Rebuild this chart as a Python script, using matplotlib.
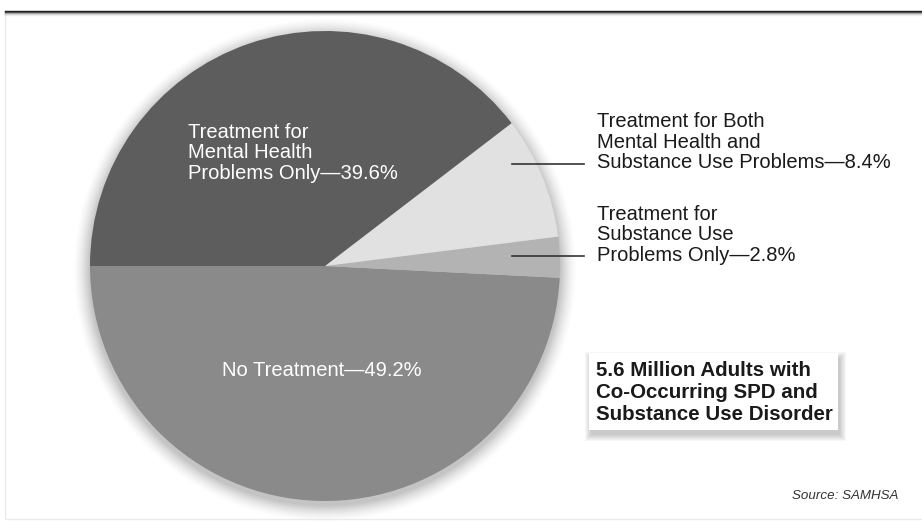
import matplotlib.pyplot as plt
from matplotlib.patches import Circle, Rectangle

plt.rcParams["font.family"] = ["Liberation Sans", "DejaVu Sans"]

# data, in drawing order (counterclockwise from 9 o'clock)
labels = [
    "No Treatment—49.2%",
    "Treatment for\nSubstance Use\nProblems Only—2.8%",
    "Treatment for Both\nMental Health and\nSubstance Use Problems—8.4%",
    "Treatment for\nMental Health\nProblems Only—39.6%",
]
shares = [49.2, 2.8, 8.4, 39.6]
colors = ["#8a8a8a", "#b3b3b3", "#e1e1e1", "#5d5d5d"]
box_text = "5.6 Million Adults with\nCo-Occurring SPD and\nSubstance Use Disorder"
source = "Source: SAMHSA"

W, H = 922, 522
fig = plt.figure(figsize=(W / 100, H / 100), dpi=100)
ax = fig.add_axes([0, 0, 1, 1])

cx, cy, r = 325, H - 266, 235

# soft shadow round the pie
for k in range(16):
    ax.add_patch(Circle((cx, cy - 4), r + 16 - k, color="black",
                        alpha=0.007 + 0.001 * k, lw=0, zorder=0))

ax.pie(shares, colors=colors, startangle=180, counterclock=True,
       center=(cx, cy), radius=r, wedgeprops=dict(linewidth=0),
       frame=True)

ax.set_xlim(0, W)
ax.set_ylim(0, H)
ax.set_aspect("equal")
ax.axis("off")

# frame of the page
ax.add_patch(Rectangle((5, H - 519), W, 519 - 11, fill=False,
                       ec="#ebebeb", lw=1, zorder=1))
for k in range(5):
    ax.plot([5, W], [H - 11 - k, H - 11 - k], color="black",
            alpha=[0.85, 0.6, 0.25, 0.1, 0.05][k], lw=1, zorder=2)

# labels inside the pie
ax.text(188, H - 153, labels[3], color="white", fontsize=14.5,
        ha="left", va="center", linespacing=1.13)
ax.text(322, H - 370, labels[0], color="white", fontsize=14.5,
        ha="center", va="center")

# labels outside with leader lines
ax.plot([512, 584], [H - 164, H - 164], color="#333333", lw=1.2)
ax.plot([512, 584], [H - 256, H - 256], color="#333333", lw=1.2)
ax.text(597, H - 142, labels[2], color="#1a1a1a", fontsize=14.5,
        ha="left", va="center", linespacing=1.13)
ax.text(597, H - 235, labels[1], color="#1a1a1a", fontsize=14.5,
        ha="left", va="center", linespacing=1.13)

# boxed note with shadow
for k in range(7):
    ax.add_patch(Rectangle((589 + 2 - k, H - 430 - 5 - k), 249 + 2 * k,
                           77 + 2 * k, color="black", alpha=0.03, lw=0,
                           zorder=3))
ax.add_patch(Rectangle((589, H - 430), 249, 77, color="white", lw=0,
                       zorder=4))
ax.text(596, H - 392, box_text, color="#1a1a1a", fontsize=14.8,
        fontweight="bold", ha="left", va="center", linespacing=1.2,
        zorder=5)

ax.text(898, H - 496, source, color="#333333", fontsize=9.6,
        style="italic", ha="right", va="center")

fig.savefig("out.png", dpi=100)
